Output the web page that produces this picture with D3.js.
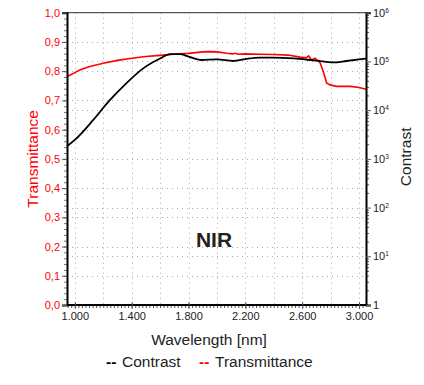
<!DOCTYPE html>
<html><head><meta charset="utf-8">
<script src="https://cdn.jsdelivr.net/npm/d3@7"></script>
<style>body{margin:0;background:#fff}svg{display:block;font-family:"Liberation Sans",Arial,sans-serif}</style>
</head><body>
<svg id="c" width="424" height="385"></svg>
<script>
const transWl = [945,1000,1035,1100,1200,1300,1400,1500,1600,1700,1800,1900,1950,2000,2070,2110,2130,2150,2200,2300,2400,2500,2585,2630,2645,2667,2690,2725,2749,2772,2796,2843,2940,3000,3049];
const transVals = [0.781,0.795,0.804,0.815,0.827,0.837,0.844,0.850,0.854,0.858,0.861,0.866,0.867,0.866,0.861,0.859,0.861,0.858,0.859,0.858,0.857,0.855,0.848,0.846,0.852,0.838,0.844,0.830,0.798,0.760,0.753,0.748,0.748,0.744,0.738];
const contWl = [945,1000,1130,1246,1364,1481,1600,1670,1740,1800,1890,2000,2115,2200,2300,2400,2540,2680,2820,2910,3000,3049];
const contVals = [1820,2450,6300,16000,36000,72000,115000,141000,141000,126000,107000,110000,102000,112000,120000,120000,115000,105000,95500,102000,110000,115000];
const xTicks = [1000,1400,1800,2200,2600,3000];
const xGrid = [1000,1200,1400,1600,1800,2000,2200,2400,2600,2800,3000];
const leftTicks = [0,0.1,0.2,0.3,0.4,0.5,0.6,0.7,0.8,0.9,1.0];
const rightTicks = [1,10,100,1000,10000,100000,1000000];
const legendItems = [{label:"Contrast",color:"#000"},{label:"Transmittance",color:"#ff0000"}];

const svg = d3.select("#c");
const L=67, R=366, T=12.7, B=305;
const x = d3.scaleLinear().domain([945,3049]).range([L,R]);
const yL = d3.scaleLinear().domain([0,1]).range([B,T]);
const yR = d3.scaleLog().domain([1,1e6]).range([B,T]);
const red = "#ff0000";

// grid
const g = svg.append("g").attr("stroke","#aaa").attr("stroke-width",1).attr("stroke-dasharray","1,4");
xGrid.forEach(v=>g.append("line").attr("x1",Math.round(x(v))+0.5).attr("x2",Math.round(x(v))+0.5).attr("y1",T).attr("y2",B));
leftTicks.slice(1,-1).forEach(v=>g.append("line").attr("x1",L).attr("x2",R).attr("y1",Math.round(yL(v))+0.5).attr("y2",Math.round(yL(v))+0.5));
rightTicks.slice(1,-1).forEach(v=>g.append("line").attr("x1",L).attr("x2",R).attr("y1",Math.round(yR(v))+0.5).attr("y2",Math.round(yR(v))+0.5));

// top border
svg.append("line").attr("x1",L).attr("x2",R).attr("y1",T).attr("y2",T).attr("stroke","#555").attr("stroke-width",1.2);

// lines
svg.append("path").datum(transWl.map((w,i)=>[w,transVals[i]]))
  .attr("fill","none").attr("stroke",red).attr("stroke-width",1.6)
  .attr("d",d3.line().x(d=>x(d[0])).y(d=>yL(d[1])));
svg.append("path").datum(contWl.map((w,i)=>[w,contVals[i]]))
  .attr("fill","none").attr("stroke","#000").attr("stroke-width",1.8)
  .attr("d",d3.line().curve(d3.curveMonotoneX).x(d=>x(d[0])).y(d=>yR(d[1])));

// left axis
const la = svg.append("g").attr("transform",`translate(${L},0)`);
const leftMinor = d3.range(0,1.0001,0.02);
la.call(d3.axisLeft(yL).tickValues(leftMinor).tickSize(3).tickFormat(""));
la.selectAll(".tick line").attr("stroke","#777");
la.select(".domain").remove();
const la2 = svg.append("g").attr("transform",`translate(${L},0)`);
la2.call(d3.axisLeft(yL).tickValues(leftTicks).tickSize(5).tickPadding(2).tickFormat(d=>d3.format(".1f")(d).replace(".",",")));
la2.select(".domain").attr("stroke","#000").attr("stroke-width",2);
la2.selectAll(".tick line").attr("stroke","#555");
la2.selectAll(".tick text").attr("fill",red).attr("font-size",11).attr("font-family","Liberation Sans, Arial");

// right axis
const ra = svg.append("g").attr("transform",`translate(${R},0)`);
const rMinor = [];
for(let e=0;e<6;e++) for(let k=2;k<=9;k++) rMinor.push(k*Math.pow(10,e));
ra.call(d3.axisRight(yR).tickValues(rMinor).tickSize(3).tickFormat(""));
ra.selectAll(".tick line").attr("stroke","#555");
ra.select(".domain").remove();
const ra2 = svg.append("g").attr("transform",`translate(${R},0)`);
ra2.call(d3.axisRight(yR).tickValues(rightTicks).tickSize(5).tickPadding(2).tickFormat(""));
ra2.select(".domain").attr("stroke","#000").attr("stroke-width",2);
ra2.selectAll(".tick line").attr("stroke","#555");
ra2.selectAll(".tick").each(function(d){
  const e = Math.round(Math.log10(d));
  const t = d3.select(this).append("text").attr("x",7).attr("dy","0.32em").attr("fill","#222")
    .attr("font-size",11).attr("font-family","Liberation Sans, Arial");
  if(e===0){ t.text("1"); }
  else { t.append("tspan").text("10"); t.append("tspan").attr("font-size",6.5).attr("dy","-0.6em").text(String(e)); }
});

// bottom axis
const ba = svg.append("g").attr("transform",`translate(0,${B})`);
ba.call(d3.axisBottom(x).tickValues(d3.range(950,3050,25)).tickSize(3).tickFormat(""));
ba.selectAll(".tick line").attr("stroke","#555").attr("y1",-1);
ba.select(".domain").remove();
const ba2 = svg.append("g").attr("transform",`translate(0,${B})`);
ba2.call(d3.axisBottom(x).tickValues(xTicks).tickSize(4).tickPadding(3));
ba2.select(".domain").attr("stroke","#000").attr("stroke-width",2).attr("d",`M${L},0H${R}`);
ba2.selectAll(".tick line").attr("stroke","#555").attr("y1",-3);
ba2.selectAll(".tick text").attr("fill","#222").attr("font-size",11).attr("font-family","Liberation Sans, Arial");
ba2.selectAll(".tick text").text(d=>d3.format(".3f")(d/1000));

// titles
svg.append("text").attr("transform",`translate(38,${(T+B)/2}) rotate(-90)`).attr("text-anchor","middle")
  .attr("fill",red).attr("font-size",15.5).text("Transmittance");
svg.append("text").attr("transform",`translate(411,${(T+B)/2-2}) rotate(-90)`).attr("text-anchor","middle")
  .attr("fill","#222").attr("font-size",15.5).text("Contrast");
svg.append("text").attr("x",209).attr("y",345).attr("text-anchor","middle").attr("fill","#222").attr("font-size",15.5).text("Wavelength [nm]");
svg.append("text").attr("x",214).attr("y",247).attr("text-anchor","middle").attr("fill","#222").attr("font-size",21).attr("font-weight","bold").text("NIR");

// legend
const lg = svg.append("g").attr("font-size",15.5);
legendItems.forEach((it,i)=>{
  const gx = i===0?106:199;
  lg.append("text").attr("x",gx).attr("y",367).attr("fill",it.color).attr("font-weight","bold").text("--");
  lg.append("text").attr("x",gx+16).attr("y",367).attr("fill","#222").text(it.label);
});
</script>
</body></html>
